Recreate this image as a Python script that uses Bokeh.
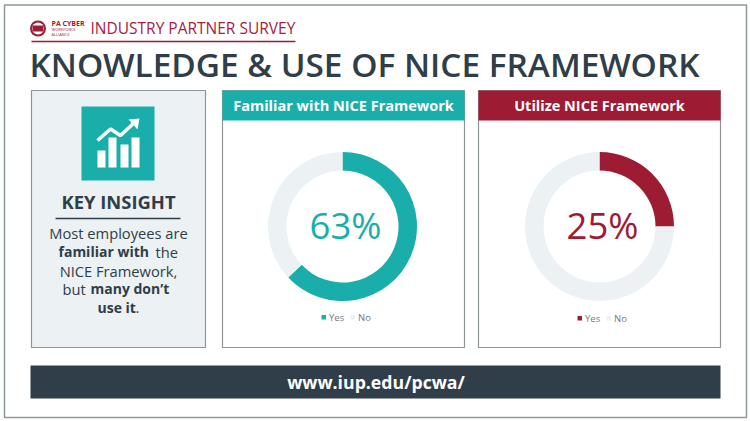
from math import pi
from bokeh.plotting import figure
from bokeh.embed import file_html
from bokeh.resources import INLINE
from bokeh.core.properties import value

categories = ["Yes", "No"]
familiar_values = [63, 37]
utilize_values = [25, 75]
familiar_title = "Familiar with NICE Framework"
utilize_title = "Utilize NICE Framework"
page_title = "KNOWLEDGE & USE OF NICE FRAMEWORK"
survey_title = "INDUSTRY PARTNER SURVEY"
site = "www.iup.edu/pcwa/"

TEAL = "#1aaeab"
CRIMSON = "#9e1b34"
PALE = "#ecf1f4"
DARK = "#2f3e48"
EDGE = "#8f9494"
FONT = "Open Sans"
SEMI = "Open Sans SemiBold"

p = figure(width=750, height=421, x_range=(0, 750), y_range=(421, 0),
           output_backend="svg", toolbar_location=None, margin=(0, 0, 0, 0),
           min_border=0, border_fill_color="white", background_fill_color="white",
           outline_line_color=None)
p.axis.visible = False
p.grid.visible = False


def box(x0, x1, y0, y1, fill, line=None, width=1):
    p.quad(left=[x0], right=[x1], top=[y0], bottom=[y1], fill_color=fill,
           line_color=line, line_width=width)


def label(x, y, s, size, color, bold=False, align="center", font=FONT):
    p.text(x=[x], y=[y - 1], text=[s], text_font=value(font), text_font_size=f"{size}px",
           text_color=color, text_align=align, text_baseline="middle",
           text_font_style="bold" if bold else "normal")


# frame
box(4, 746, 4.5, 417, None, "#8d9a96", 1.5)

# header
p.circle(x=[37.5], y=[28], radius=8, fill_color=CRIMSON, line_color=None)
p.circle(x=[37.5], y=[28], radius=6, fill_color="white", line_color=None)
box(32, 43, 25, 31, CRIMSON)
label(51, 24, "PA CYBER", 7, CRIMSON, True, "left")
label(51, 30, "WORKFORCE", 4, CRIMSON, False, "left")
label(51, 34.5, "ALLIANCE", 4, CRIMSON, False, "left")
label(90, 28, survey_title, 15.5, "#a3233e", False, "left")
p.line(x=[31, 295], y=[41, 41], line_color=CRIMSON, line_width=1.5)
label(29, 64, page_title, 33.4, DARK, False, "left", SEMI)

# insight panel
box(31, 205, 90, 347, PALE, EDGE, 1.2)
box(81, 154, 106, 180, TEAL)
for x0, x1, top in [(97, 105, 150), (108, 116, 137), (120, 128, 144), (131, 139, 137)]:
    box(x0, x1, top, 167, "white")
p.line(x=[97, 110, 120, 135], y=[140, 128.5, 135, 121], line_color="white", line_width=3.5)
p.patch(x=[128, 139, 137], y=[119, 118, 129], fill_color="white", line_color=None)

label(118, 202, "KEY INSIGHT", 18.4, DARK, True)
p.line(x=[55, 180], y=[218, 218], line_color=DARK, line_width=1.5)
label(118, 233, "Most employees are", 14.7, DARK)
label(58, 252, "familiar with", 14, DARK, True, "left")
label(155, 252, "the", 14.7, DARK, False, "left")
label(118, 271, "NICE Framework,", 14.7, DARK)
label(62, 289, "but", 14.7, DARK, False, "left")
label(90, 289, "many don’t", 14, DARK, True, "left")
label(97, 308, "use it", 14, DARK, True, "left")
label(135, 308, ".", 14.7, DARK, False, "left")


def panel(x0, x1, title, values, color, cx, cy, legend_x, legend_y):
    box(x0, x1, 90, 347, "white", EDGE, 1.2)
    box(x0, x1, 90, 120, color)
    label((x0 + x1) / 2, 105.5, title, 14.5, "white", True)
    total = sum(values)
    start = pi / 2
    for val, col in zip(values, [color, PALE]):
        end = start - 2 * pi * val / total
        p.annular_wedge(x=[cx], y=[cy], inner_radius=56, outer_radius=74.5,
                        start_angle=end, end_angle=start, direction="anticlock",
                        fill_color=col, line_color=None)
        start = end
    label(cx + 3, cy - 1, f"{values[0]}%", 36.5, color)
    for cat, col, off in zip(categories, [color, PALE], [0, 29]):
        box(legend_x + off, legend_x + off + 4.5, legend_y - 2.5, legend_y + 2, col)
        label(legend_x + off + 7.5, legend_y + 1, cat, 9.5, "#6f7b83", False, "left")


panel(222, 464, familiar_title, familiar_values, TEAL, 342, 226, 321, 317)
panel(478, 720, utilize_title, utilize_values, CRIMSON, 599, 226, 577, 318)

# footer
box(30, 720, 365, 398, DARK)
label(375.5, 382.5, site, 17.7, "white", True)

open("out.html", "w").write(file_html(p, INLINE))
